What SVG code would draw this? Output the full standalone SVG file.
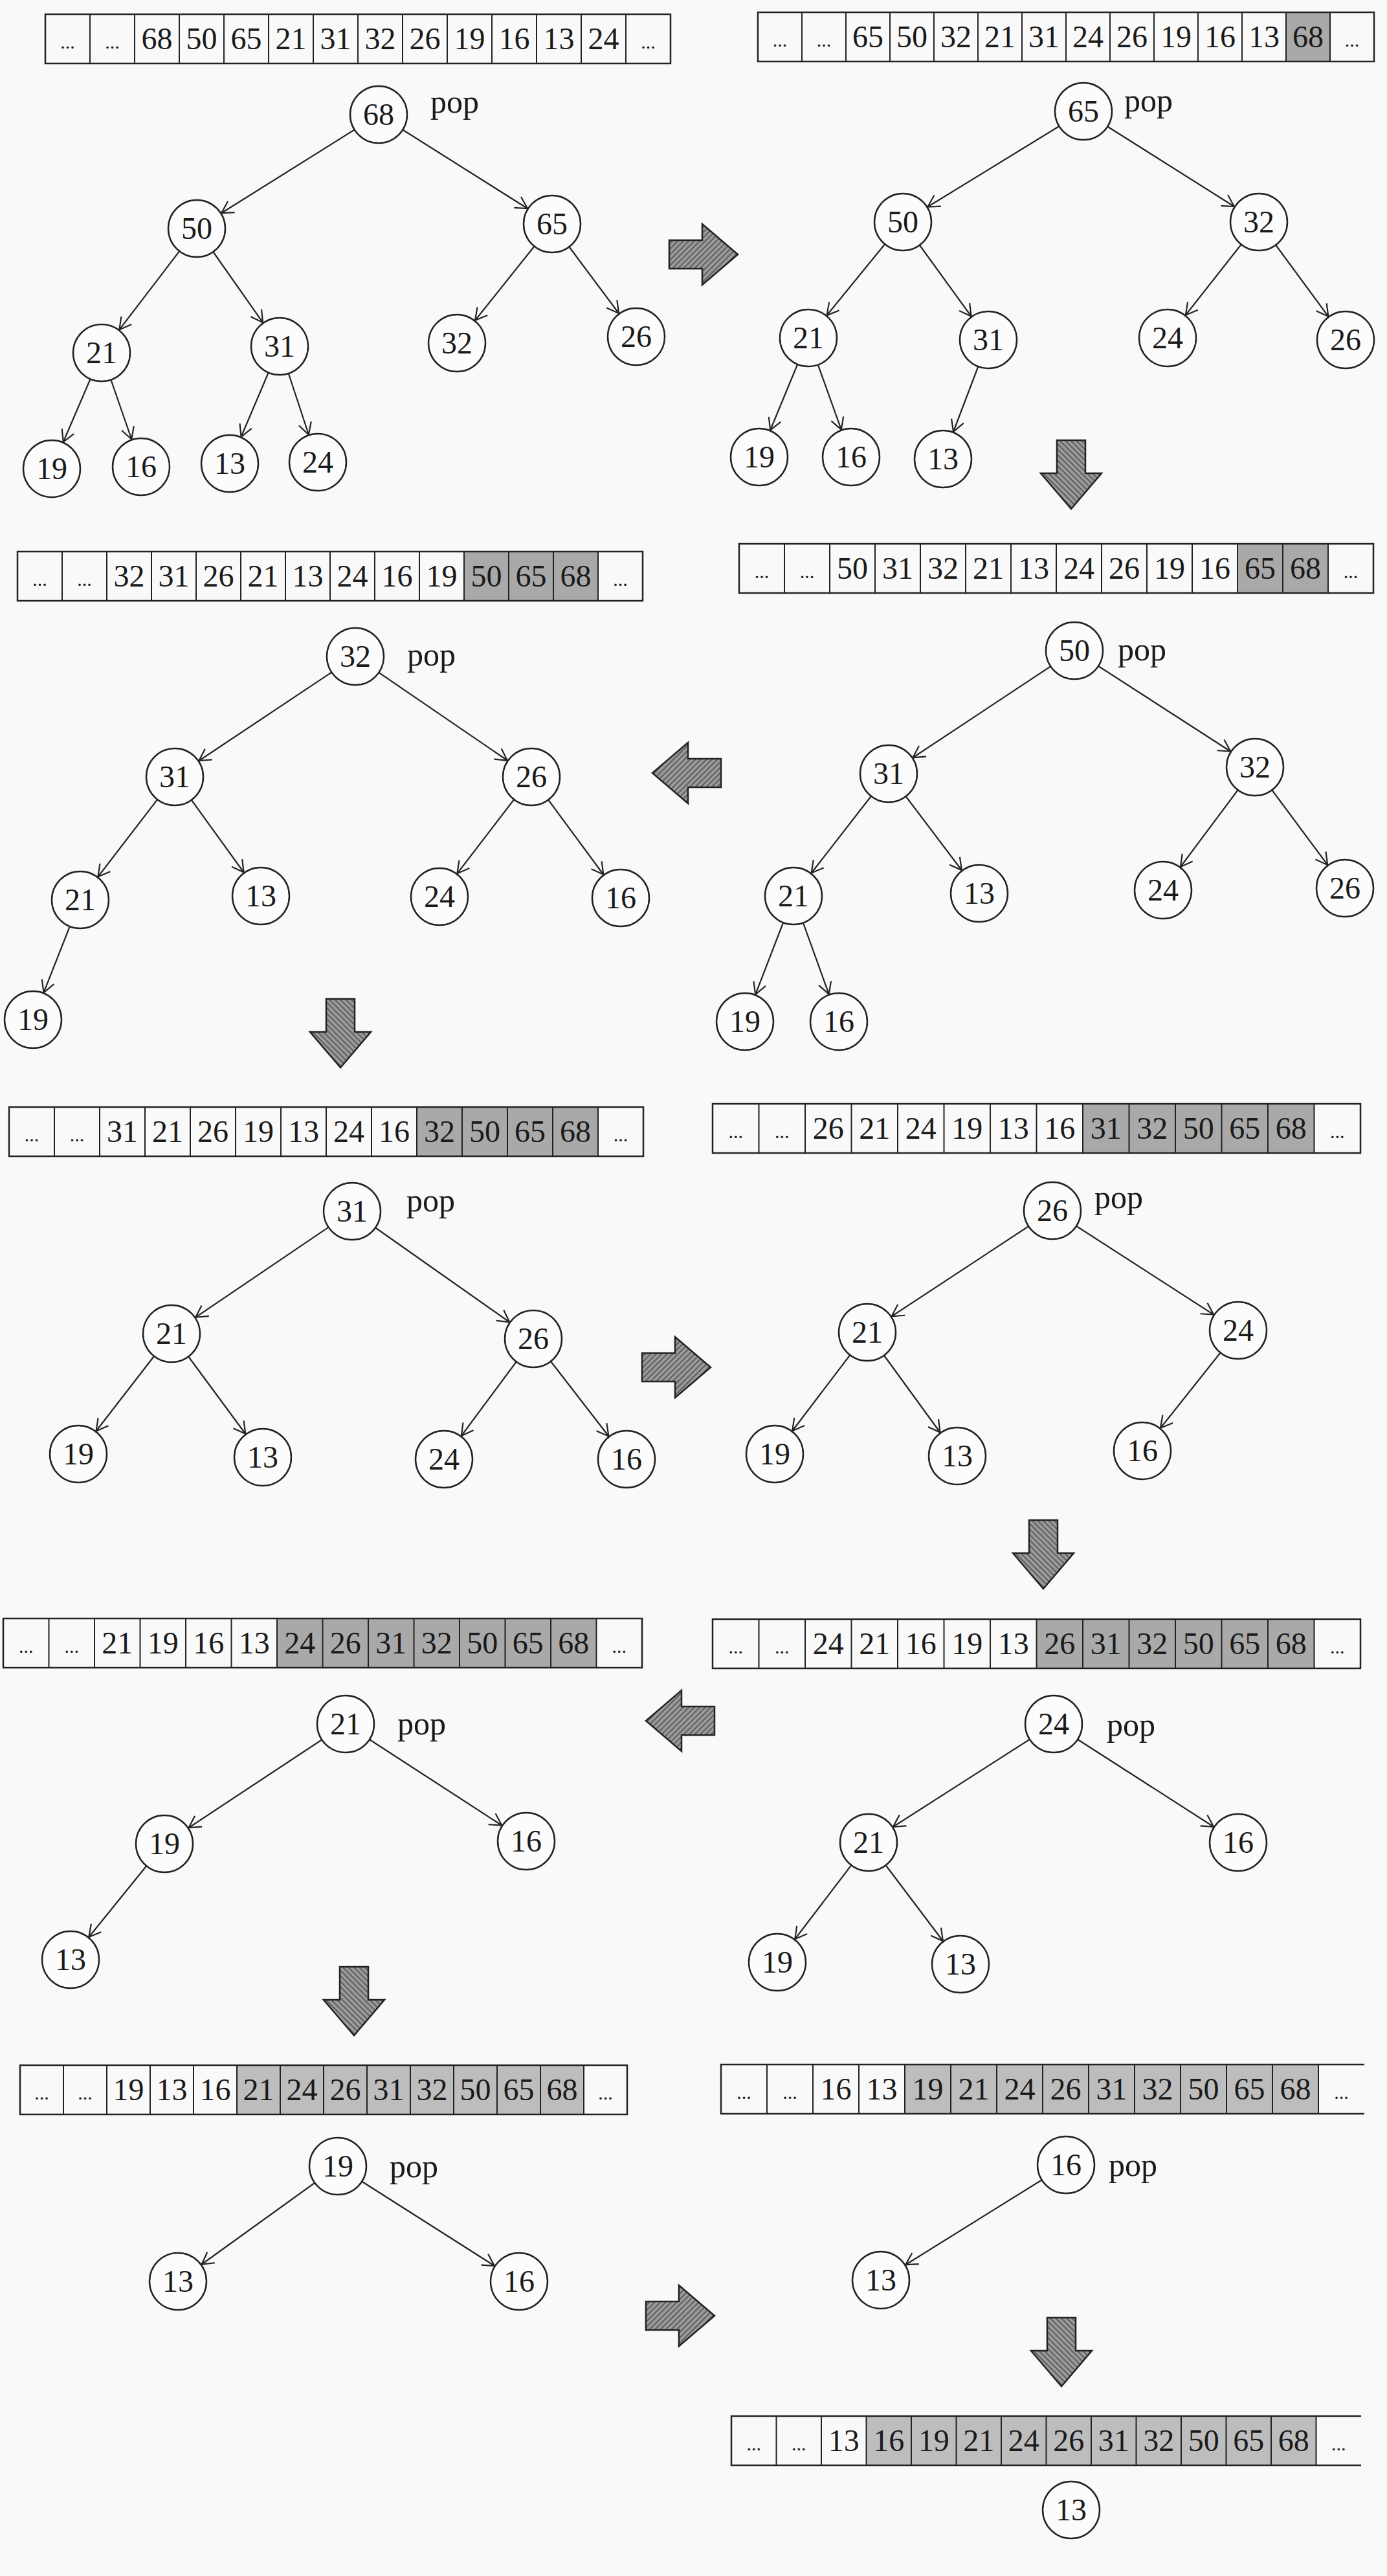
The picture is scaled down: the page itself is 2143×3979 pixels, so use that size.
<svg xmlns="http://www.w3.org/2000/svg" xmlns:xlink="http://www.w3.org/1999/xlink" width="2143" height="3979" viewBox="0 0 2143 3979">
<style>
.bg{fill:#f9f9f9}
.box{fill:none;stroke:#222;stroke-width:2.5}
.div{fill:none;stroke:#222;stroke-width:2}
.sh{fill:#a9a9a9}
.sh2{fill:#bdbdbd}
.v{font-family:"Liberation Serif","Times New Roman",serif;font-size:48px;fill:#1a1a1a;text-anchor:middle}
.d{font-family:"Liberation Serif","Times New Roman",serif;font-size:30px;fill:#1a1a1a;text-anchor:middle}
.node circle{fill:#fcfcfc;stroke:#222;stroke-width:2.5}
.node text{font-family:"Liberation Serif","Times New Roman",serif;font-size:48px;fill:#1a1a1a;text-anchor:middle}
.pop{font-family:"Liberation Serif","Times New Roman",serif;font-size:50px;fill:#1a1a1a}
.e{stroke:#222;stroke-width:2.2;marker-end:url(#ah)}
.ba{fill:url(#hatch);stroke:#222;stroke-width:2.5}
</style>
<defs>
<marker id="ah" markerUnits="userSpaceOnUse" viewBox="0 0 80 30" markerWidth="80" markerHeight="30" refX="65" refY="15" orient="auto">
<path d="M2 5 L20 15 L2 25" fill="none" stroke="#222" stroke-width="2.2"/>
</marker>
<pattern id="hatch" patternUnits="userSpaceOnUse" width="6" height="6" patternTransform="rotate(45)">
<rect width="6" height="6" fill="#9a9a9a"/>
<line x1="0" y1="0" x2="0" y2="6" stroke="#4a4a4a" stroke-width="3"/>
</pattern>
<path id="barrow" d="M0 -22 H51 V-47 L106 0 L51 47 V22 H0 Z"/>
</defs>
<rect class="bg" x="0" y="0" width="2143" height="3979"/>

<!-- arrays -->
<g id="array1" transform="translate(70,22)">
<rect class="box" x="0" y="0" width="966" height="76"/>
<path class="div" d="M69 0V76M138 0V76M207 0V76M276 0V76M345 0V76M414 0V76M483 0V76M552 0V76M621 0V76M690 0V76M759 0V76M828 0V76M897 0V76"/>
<text class="d" x="34.5" y="53">...</text><text class="d" x="103.5" y="53">...</text>
<text class="v" x="172.5" y="54">68</text><text class="v" x="241.5" y="54">50</text><text class="v" x="310.5" y="54">65</text><text class="v" x="379.5" y="54">21</text><text class="v" x="448.5" y="54">31</text><text class="v" x="517.5" y="54">32</text><text class="v" x="586.5" y="54">26</text><text class="v" x="655.5" y="54">19</text><text class="v" x="724.5" y="54">16</text><text class="v" x="793.5" y="54">13</text><text class="v" x="862.5" y="54">24</text>
<text class="d" x="931.5" y="53">...</text>
</g>

<g id="array2" transform="translate(1171,19)">
<rect class="sh" x="816" y="0" width="68" height="76"/>
<rect class="box" x="0" y="0" width="952" height="76"/>
<path class="div" d="M68 0V76M136 0V76M204 0V76M272 0V76M340 0V76M408 0V76M476 0V76M544 0V76M612 0V76M680 0V76M748 0V76M816 0V76M884 0V76"/>
<text class="d" x="34" y="53">...</text><text class="d" x="102" y="53">...</text>
<text class="v" x="170" y="54">65</text><text class="v" x="238" y="54">50</text><text class="v" x="306" y="54">32</text><text class="v" x="374" y="54">21</text><text class="v" x="442" y="54">31</text><text class="v" x="510" y="54">24</text><text class="v" x="578" y="54">26</text><text class="v" x="646" y="54">19</text><text class="v" x="714" y="54">16</text><text class="v" x="782" y="54">13</text><text class="v" x="850" y="54">68</text>
<text class="d" x="918" y="53">...</text>
</g>

<g id="array3" transform="translate(1142,840)">
<rect class="sh" x="770" y="0" width="140" height="76"/>
<rect class="box" x="0" y="0" width="980" height="76"/>
<path class="div" d="M70 0V76M140 0V76M210 0V76M280 0V76M350 0V76M420 0V76M490 0V76M560 0V76M630 0V76M700 0V76M770 0V76M840 0V76M910 0V76"/>
<text class="d" x="35" y="53">...</text><text class="d" x="105" y="53">...</text>
<text class="v" x="175" y="54">50</text><text class="v" x="245" y="54">31</text><text class="v" x="315" y="54">32</text><text class="v" x="385" y="54">21</text><text class="v" x="455" y="54">13</text><text class="v" x="525" y="54">24</text><text class="v" x="595" y="54">26</text><text class="v" x="665" y="54">19</text><text class="v" x="735" y="54">16</text><text class="v" x="805" y="54">65</text><text class="v" x="875" y="54">68</text>
<text class="d" x="945" y="53">...</text>
</g>

<g id="array4" transform="translate(27,852)">
<rect class="sh" x="690" y="0" width="207" height="76"/>
<rect class="box" x="0" y="0" width="966" height="76"/>
<path class="div" d="M69 0V76M138 0V76M207 0V76M276 0V76M345 0V76M414 0V76M483 0V76M552 0V76M621 0V76M690 0V76M759 0V76M828 0V76M897 0V76"/>
<text class="d" x="34.5" y="53">...</text><text class="d" x="103.5" y="53">...</text>
<text class="v" x="172.5" y="54">32</text><text class="v" x="241.5" y="54">31</text><text class="v" x="310.5" y="54">26</text><text class="v" x="379.5" y="54">21</text><text class="v" x="448.5" y="54">13</text><text class="v" x="517.5" y="54">24</text><text class="v" x="586.5" y="54">16</text><text class="v" x="655.5" y="54">19</text><text class="v" x="724.5" y="54">50</text><text class="v" x="793.5" y="54">65</text><text class="v" x="862.5" y="54">68</text>
<text class="d" x="931.5" y="53">...</text>
</g>

<g id="array5" transform="translate(14,1710)">
<rect class="sh" x="630" y="0" width="280" height="76"/>
<rect class="box" x="0" y="0" width="980" height="76"/>
<path class="div" d="M70 0V76M140 0V76M210 0V76M280 0V76M350 0V76M420 0V76M490 0V76M560 0V76M630 0V76M700 0V76M770 0V76M840 0V76M910 0V76"/>
<text class="d" x="35" y="53">...</text><text class="d" x="105" y="53">...</text>
<text class="v" x="175" y="54">31</text><text class="v" x="245" y="54">21</text><text class="v" x="315" y="54">26</text><text class="v" x="385" y="54">19</text><text class="v" x="455" y="54">13</text><text class="v" x="525" y="54">24</text><text class="v" x="595" y="54">16</text><text class="v" x="665" y="54">32</text><text class="v" x="735" y="54">50</text><text class="v" x="805" y="54">65</text><text class="v" x="875" y="54">68</text>
<text class="d" x="945" y="53">...</text>
</g>

<g id="array6" transform="translate(1101,1705)">
<rect class="sh" x="572" y="0" width="357.5" height="76"/>
<rect class="box" x="0" y="0" width="1001" height="76"/>
<path class="div" d="M71.5 0V76M143 0V76M214.5 0V76M286 0V76M357.5 0V76M429 0V76M500.5 0V76M572 0V76M643.5 0V76M715 0V76M786.5 0V76M858 0V76M929.5 0V76"/>
<text class="d" x="35.75" y="53">...</text><text class="d" x="107.25" y="53">...</text>
<text class="v" x="178.75" y="54">26</text><text class="v" x="250.25" y="54">21</text><text class="v" x="321.75" y="54">24</text><text class="v" x="393.25" y="54">19</text><text class="v" x="464.75" y="54">13</text><text class="v" x="536.25" y="54">16</text><text class="v" x="607.75" y="54">31</text><text class="v" x="679.25" y="54">32</text><text class="v" x="750.75" y="54">50</text><text class="v" x="822.25" y="54">65</text><text class="v" x="893.75" y="54">68</text>
<text class="d" x="965.25" y="53">...</text>
</g>

<g id="array7" transform="translate(1101,2501)">
<rect class="sh" x="500.5" y="0" width="429" height="76"/>
<rect class="box" x="0" y="0" width="1001" height="76"/>
<path class="div" d="M71.5 0V76M143 0V76M214.5 0V76M286 0V76M357.5 0V76M429 0V76M500.5 0V76M572 0V76M643.5 0V76M715 0V76M786.5 0V76M858 0V76M929.5 0V76"/>
<text class="d" x="35.75" y="53">...</text><text class="d" x="107.25" y="53">...</text>
<text class="v" x="178.75" y="54">24</text><text class="v" x="250.25" y="54">21</text><text class="v" x="321.75" y="54">16</text><text class="v" x="393.25" y="54">19</text><text class="v" x="464.75" y="54">13</text><text class="v" x="536.25" y="54">26</text><text class="v" x="607.75" y="54">31</text><text class="v" x="679.25" y="54">32</text><text class="v" x="750.75" y="54">50</text><text class="v" x="822.25" y="54">65</text><text class="v" x="893.75" y="54">68</text>
<text class="d" x="965.25" y="53">...</text>
</g>

<g id="array8" transform="translate(5,2500)">
<rect class="sh" x="423" y="0" width="493.5" height="76"/>
<rect class="box" x="0" y="0" width="987" height="76"/>
<path class="div" d="M70.5 0V76M141 0V76M211.5 0V76M282 0V76M352.5 0V76M423 0V76M493.5 0V76M564 0V76M634.5 0V76M705 0V76M775.5 0V76M846 0V76M916.5 0V76"/>
<text class="d" x="35.25" y="53">...</text><text class="d" x="105.75" y="53">...</text>
<text class="v" x="176.25" y="54">21</text><text class="v" x="246.75" y="54">19</text><text class="v" x="317.25" y="54">16</text><text class="v" x="387.75" y="54">13</text><text class="v" x="458.25" y="54">24</text><text class="v" x="528.75" y="54">26</text><text class="v" x="599.25" y="54">31</text><text class="v" x="669.75" y="54">32</text><text class="v" x="740.25" y="54">50</text><text class="v" x="810.75" y="54">65</text><text class="v" x="881.25" y="54">68</text>
<text class="d" x="951.75" y="53">...</text>
</g>

<g id="array9" transform="translate(31,3190)">
<rect class="sh2" x="335" y="0" width="536" height="76"/>
<rect class="box" x="0" y="0" width="938" height="76"/>
<path class="div" d="M67 0V76M134 0V76M201 0V76M268 0V76M335 0V76M402 0V76M469 0V76M536 0V76M603 0V76M670 0V76M737 0V76M804 0V76M871 0V76"/>
<text class="d" x="33.5" y="53">...</text><text class="d" x="100.5" y="53">...</text>
<text class="v" x="167.5" y="54">19</text><text class="v" x="234.5" y="54">13</text><text class="v" x="301.5" y="54">16</text><text class="v" x="368.5" y="54">21</text><text class="v" x="435.5" y="54">24</text><text class="v" x="502.5" y="54">26</text><text class="v" x="569.5" y="54">31</text><text class="v" x="636.5" y="54">32</text><text class="v" x="703.5" y="54">50</text><text class="v" x="770.5" y="54">65</text><text class="v" x="837.5" y="54">68</text>
<text class="d" x="904.5" y="53">...</text>
</g>

<g id="array10" transform="translate(1114,3189)">
<rect class="sh2" x="284" y="0" width="639" height="76"/>
<path class="box" d="M994 0H0V76H994"/>
<path class="div" d="M71 0V76M142 0V76M213 0V76M284 0V76M355 0V76M426 0V76M497 0V76M568 0V76M639 0V76M710 0V76M781 0V76M852 0V76M923 0V76"/>
<text class="d" x="35.5" y="53">...</text><text class="d" x="106.5" y="53">...</text>
<text class="v" x="177.5" y="54">16</text><text class="v" x="248.5" y="54">13</text><text class="v" x="319.5" y="54">19</text><text class="v" x="390.5" y="54">21</text><text class="v" x="461.5" y="54">24</text><text class="v" x="532.5" y="54">26</text><text class="v" x="603.5" y="54">31</text><text class="v" x="674.5" y="54">32</text><text class="v" x="745.5" y="54">50</text><text class="v" x="816.5" y="54">65</text><text class="v" x="887.5" y="54">68</text>
<text class="d" x="958.5" y="53">...</text>
</g>

<g id="array11" transform="translate(1130,3732)">
<rect class="sh2" x="208.5" y="0" width="695" height="76"/>
<path class="box" d="M973 0H0V76H973"/>
<path class="div" d="M69.5 0V76M139 0V76M208.5 0V76M278 0V76M347.5 0V76M417 0V76M486.5 0V76M556 0V76M625.5 0V76M695 0V76M764.5 0V76M834 0V76M903.5 0V76"/>
<text class="d" x="34.75" y="53">...</text><text class="d" x="104.25" y="53">...</text>
<text class="v" x="173.75" y="54">13</text><text class="v" x="243.25" y="54">16</text><text class="v" x="312.75" y="54">19</text><text class="v" x="382.25" y="54">21</text><text class="v" x="451.75" y="54">24</text><text class="v" x="521.25" y="54">26</text><text class="v" x="590.75" y="54">31</text><text class="v" x="660.25" y="54">32</text><text class="v" x="729.75" y="54">50</text><text class="v" x="799.25" y="54">65</text><text class="v" x="868.75" y="54">68</text>
<text class="d" x="938.25" y="53">...</text>
</g>

<!-- block arrows -->
<g id="steps">
<use xlink:href="#barrow" href="#barrow" class="ba" transform="translate(1034,393)"/>
<use xlink:href="#barrow" href="#barrow" class="ba" transform="translate(1655,680) rotate(90)"/>
<use xlink:href="#barrow" href="#barrow" class="ba" transform="translate(1114,1194) rotate(180)"/>
<use xlink:href="#barrow" href="#barrow" class="ba" transform="translate(526,1543) rotate(90)"/>
<use xlink:href="#barrow" href="#barrow" class="ba" transform="translate(992,2112)"/>
<use xlink:href="#barrow" href="#barrow" class="ba" transform="translate(1612,2348) rotate(90)"/>
<use xlink:href="#barrow" href="#barrow" class="ba" transform="translate(1104,2658) rotate(180)"/>
<use xlink:href="#barrow" href="#barrow" class="ba" transform="translate(547,3038) rotate(90)"/>
<use xlink:href="#barrow" href="#barrow" class="ba" transform="translate(998,3577)"/>
<use xlink:href="#barrow" href="#barrow" class="ba" transform="translate(1640,3580) rotate(90)"/>
</g>

<!-- connectors -->
<g id="connectors">
<line class="e" x1="585" y1="177" x2="304" y2="353"/>
<line class="e" x1="585" y1="177" x2="853" y2="346"/>
<line class="e" x1="304" y1="353" x2="157" y2="545"/>
<line class="e" x1="304" y1="353" x2="432" y2="535"/>
<line class="e" x1="853" y1="346" x2="706" y2="530"/>
<line class="e" x1="853" y1="346" x2="983" y2="520"/>
<line class="e" x1="157" y1="545" x2="80" y2="724"/>
<line class="e" x1="157" y1="545" x2="218" y2="721"/>
<line class="e" x1="432" y1="535" x2="355" y2="716"/>
<line class="e" x1="432" y1="535" x2="491" y2="714"/>

<line class="e" x1="1674" y1="172" x2="1395" y2="343"/>
<line class="e" x1="1674" y1="172" x2="1945" y2="343"/>
<line class="e" x1="1395" y1="343" x2="1249" y2="522"/>
<line class="e" x1="1395" y1="343" x2="1527" y2="525"/>
<line class="e" x1="1945" y1="343" x2="1804" y2="522"/>
<line class="e" x1="1945" y1="343" x2="2079" y2="525"/>
<line class="e" x1="1249" y1="522" x2="1173" y2="706"/>
<line class="e" x1="1249" y1="522" x2="1315" y2="706"/>
<line class="e" x1="1527" y1="525" x2="1457" y2="709"/>

<line class="e" x1="1660" y1="1005" x2="1373" y2="1195"/>
<line class="e" x1="1660" y1="1005" x2="1939" y2="1185"/>
<line class="e" x1="1373" y1="1195" x2="1226" y2="1384"/>
<line class="e" x1="1373" y1="1195" x2="1513" y2="1380"/>
<line class="e" x1="1939" y1="1185" x2="1797" y2="1375"/>
<line class="e" x1="1939" y1="1185" x2="2078" y2="1372"/>
<line class="e" x1="1226" y1="1384" x2="1151" y2="1578"/>
<line class="e" x1="1226" y1="1384" x2="1296" y2="1578"/>

<line class="e" x1="549" y1="1014" x2="270" y2="1200"/>
<line class="e" x1="549" y1="1014" x2="821" y2="1200"/>
<line class="e" x1="270" y1="1200" x2="124" y2="1390"/>
<line class="e" x1="270" y1="1200" x2="403" y2="1384"/>
<line class="e" x1="821" y1="1200" x2="679" y2="1385"/>
<line class="e" x1="821" y1="1200" x2="959" y2="1387"/>
<line class="e" x1="124" y1="1390" x2="51" y2="1575"/>

<line class="e" x1="544" y1="1871" x2="265" y2="2060"/>
<line class="e" x1="544" y1="1871" x2="824" y2="2068"/>
<line class="e" x1="265" y1="2060" x2="121" y2="2246"/>
<line class="e" x1="265" y1="2060" x2="406" y2="2251"/>
<line class="e" x1="824" y1="2068" x2="686" y2="2254"/>
<line class="e" x1="824" y1="2068" x2="968" y2="2254"/>

<line class="e" x1="1626" y1="1870" x2="1340" y2="2058"/>
<line class="e" x1="1626" y1="1870" x2="1913" y2="2055"/>
<line class="e" x1="1340" y1="2058" x2="1197" y2="2246"/>
<line class="e" x1="1340" y1="2058" x2="1479" y2="2249"/>
<line class="e" x1="1913" y1="2055" x2="1765" y2="2241"/>

<line class="e" x1="1628" y1="2663" x2="1342" y2="2846"/>
<line class="e" x1="1628" y1="2663" x2="1913" y2="2846"/>
<line class="e" x1="1342" y1="2846" x2="1201" y2="3031"/>
<line class="e" x1="1342" y1="2846" x2="1484" y2="3034"/>

<line class="e" x1="534" y1="2663" x2="254" y2="2848"/>
<line class="e" x1="534" y1="2663" x2="813" y2="2844"/>
<line class="e" x1="254" y1="2848" x2="109" y2="3027"/>

<line class="e" x1="522" y1="3346" x2="275" y2="3524"/>
<line class="e" x1="522" y1="3346" x2="802" y2="3524"/>

<line class="e" x1="1647" y1="3344" x2="1361" y2="3522"/>
</g>

<!-- nodes -->
<g id="p1-68" class="node"><circle cx="585" cy="177" r="44"/><text x="585" y="193">68</text></g>
<g id="p1-50" class="node"><circle cx="304" cy="353" r="44"/><text x="304" y="369">50</text></g>
<g id="p1-65" class="node"><circle cx="853" cy="346" r="44"/><text x="853" y="362">65</text></g>
<g id="p1-21" class="node"><circle cx="157" cy="545" r="44"/><text x="157" y="561">21</text></g>
<g id="p1-31" class="node"><circle cx="432" cy="535" r="44"/><text x="432" y="551">31</text></g>
<g id="p1-32" class="node"><circle cx="706" cy="530" r="44"/><text x="706" y="546">32</text></g>
<g id="p1-26" class="node"><circle cx="983" cy="520" r="44"/><text x="983" y="536">26</text></g>
<g id="p1-19" class="node"><circle cx="80" cy="724" r="44"/><text x="80" y="740">19</text></g>
<g id="p1-16" class="node"><circle cx="218" cy="721" r="44"/><text x="218" y="737">16</text></g>
<g id="p1-13" class="node"><circle cx="355" cy="716" r="44"/><text x="355" y="732">13</text></g>
<g id="p1-24" class="node"><circle cx="491" cy="714" r="44"/><text x="491" y="730">24</text></g>
<text class="pop" x="665" y="174">pop</text>

<g id="p2-65" class="node"><circle cx="1674" cy="172" r="44"/><text x="1674" y="188">65</text></g>
<g id="p2-50" class="node"><circle cx="1395" cy="343" r="44"/><text x="1395" y="359">50</text></g>
<g id="p2-32" class="node"><circle cx="1945" cy="343" r="44"/><text x="1945" y="359">32</text></g>
<g id="p2-21" class="node"><circle cx="1249" cy="522" r="44"/><text x="1249" y="538">21</text></g>
<g id="p2-31" class="node"><circle cx="1527" cy="525" r="44"/><text x="1527" y="541">31</text></g>
<g id="p2-24" class="node"><circle cx="1804" cy="522" r="44"/><text x="1804" y="538">24</text></g>
<g id="p2-26" class="node"><circle cx="2079" cy="525" r="44"/><text x="2079" y="541">26</text></g>
<g id="p2-19" class="node"><circle cx="1173" cy="706" r="44"/><text x="1173" y="722">19</text></g>
<g id="p2-16" class="node"><circle cx="1315" cy="706" r="44"/><text x="1315" y="722">16</text></g>
<g id="p2-13" class="node"><circle cx="1457" cy="709" r="44"/><text x="1457" y="725">13</text></g>
<text class="pop" x="1737" y="172">pop</text>

<g id="p3-50" class="node"><circle cx="1660" cy="1005" r="44"/><text x="1660" y="1021">50</text></g>
<g id="p3-31" class="node"><circle cx="1373" cy="1195" r="44"/><text x="1373" y="1211">31</text></g>
<g id="p3-32" class="node"><circle cx="1939" cy="1185" r="44"/><text x="1939" y="1201">32</text></g>
<g id="p3-21" class="node"><circle cx="1226" cy="1384" r="44"/><text x="1226" y="1400">21</text></g>
<g id="p3-13" class="node"><circle cx="1513" cy="1380" r="44"/><text x="1513" y="1396">13</text></g>
<g id="p3-24" class="node"><circle cx="1797" cy="1375" r="44"/><text x="1797" y="1391">24</text></g>
<g id="p3-26" class="node"><circle cx="2078" cy="1372" r="44"/><text x="2078" y="1388">26</text></g>
<g id="p3-19" class="node"><circle cx="1151" cy="1578" r="44"/><text x="1151" y="1594">19</text></g>
<g id="p3-16" class="node"><circle cx="1296" cy="1578" r="44"/><text x="1296" y="1594">16</text></g>
<text class="pop" x="1727" y="1020">pop</text>

<g id="p4-32" class="node"><circle cx="549" cy="1014" r="44"/><text x="549" y="1030">32</text></g>
<g id="p4-31" class="node"><circle cx="270" cy="1200" r="44"/><text x="270" y="1216">31</text></g>
<g id="p4-26" class="node"><circle cx="821" cy="1200" r="44"/><text x="821" y="1216">26</text></g>
<g id="p4-21" class="node"><circle cx="124" cy="1390" r="44"/><text x="124" y="1406">21</text></g>
<g id="p4-13" class="node"><circle cx="403" cy="1384" r="44"/><text x="403" y="1400">13</text></g>
<g id="p4-24" class="node"><circle cx="679" cy="1385" r="44"/><text x="679" y="1401">24</text></g>
<g id="p4-16" class="node"><circle cx="959" cy="1387" r="44"/><text x="959" y="1403">16</text></g>
<g id="p4-19" class="node"><circle cx="51" cy="1575" r="44"/><text x="51" y="1591">19</text></g>
<text class="pop" x="629" y="1028">pop</text>

<g id="p5-31" class="node"><circle cx="544" cy="1871" r="44"/><text x="544" y="1887">31</text></g>
<g id="p5-21" class="node"><circle cx="265" cy="2060" r="44"/><text x="265" y="2076">21</text></g>
<g id="p5-26" class="node"><circle cx="824" cy="2068" r="44"/><text x="824" y="2084">26</text></g>
<g id="p5-19" class="node"><circle cx="121" cy="2246" r="44"/><text x="121" y="2262">19</text></g>
<g id="p5-13" class="node"><circle cx="406" cy="2251" r="44"/><text x="406" y="2267">13</text></g>
<g id="p5-24" class="node"><circle cx="686" cy="2254" r="44"/><text x="686" y="2270">24</text></g>
<g id="p5-16" class="node"><circle cx="968" cy="2254" r="44"/><text x="968" y="2270">16</text></g>
<text class="pop" x="628" y="1871">pop</text>

<g id="p6-26" class="node"><circle cx="1626" cy="1870" r="44"/><text x="1626" y="1886">26</text></g>
<g id="p6-21" class="node"><circle cx="1340" cy="2058" r="44"/><text x="1340" y="2074">21</text></g>
<g id="p6-24" class="node"><circle cx="1913" cy="2055" r="44"/><text x="1913" y="2071">24</text></g>
<g id="p6-19" class="node"><circle cx="1197" cy="2246" r="44"/><text x="1197" y="2262">19</text></g>
<g id="p6-13" class="node"><circle cx="1479" cy="2249" r="44"/><text x="1479" y="2265">13</text></g>
<g id="p6-16" class="node"><circle cx="1765" cy="2241" r="44"/><text x="1765" y="2257">16</text></g>
<text class="pop" x="1691" y="1866">pop</text>

<g id="p7-24" class="node"><circle cx="1628" cy="2663" r="44"/><text x="1628" y="2679">24</text></g>
<g id="p7-21" class="node"><circle cx="1342" cy="2846" r="44"/><text x="1342" y="2862">21</text></g>
<g id="p7-16" class="node"><circle cx="1913" cy="2846" r="44"/><text x="1913" y="2862">16</text></g>
<g id="p7-19" class="node"><circle cx="1201" cy="3031" r="44"/><text x="1201" y="3047">19</text></g>
<g id="p7-13" class="node"><circle cx="1484" cy="3034" r="44"/><text x="1484" y="3050">13</text></g>
<text class="pop" x="1710" y="2681">pop</text>

<g id="p8-21" class="node"><circle cx="534" cy="2663" r="44"/><text x="534" y="2679">21</text></g>
<g id="p8-19" class="node"><circle cx="254" cy="2848" r="44"/><text x="254" y="2864">19</text></g>
<g id="p8-16" class="node"><circle cx="813" cy="2844" r="44"/><text x="813" y="2860">16</text></g>
<g id="p8-13" class="node"><circle cx="109" cy="3027" r="44"/><text x="109" y="3043">13</text></g>
<text class="pop" x="614" y="2679">pop</text>

<g id="p9-19" class="node"><circle cx="522" cy="3346" r="44"/><text x="522" y="3362">19</text></g>
<g id="p9-13" class="node"><circle cx="275" cy="3524" r="44"/><text x="275" y="3540">13</text></g>
<g id="p9-16" class="node"><circle cx="802" cy="3524" r="44"/><text x="802" y="3540">16</text></g>
<text class="pop" x="602" y="3363">pop</text>

<g id="p10-16" class="node"><circle cx="1647" cy="3344" r="44"/><text x="1647" y="3360">16</text></g>
<g id="p10-13" class="node"><circle cx="1361" cy="3522" r="44"/><text x="1361" y="3538">13</text></g>
<text class="pop" x="1713" y="3361">pop</text>

<g id="p11-13" class="node"><circle cx="1655" cy="3877" r="44"/><text x="1655" y="3893">13</text></g>
</svg>
